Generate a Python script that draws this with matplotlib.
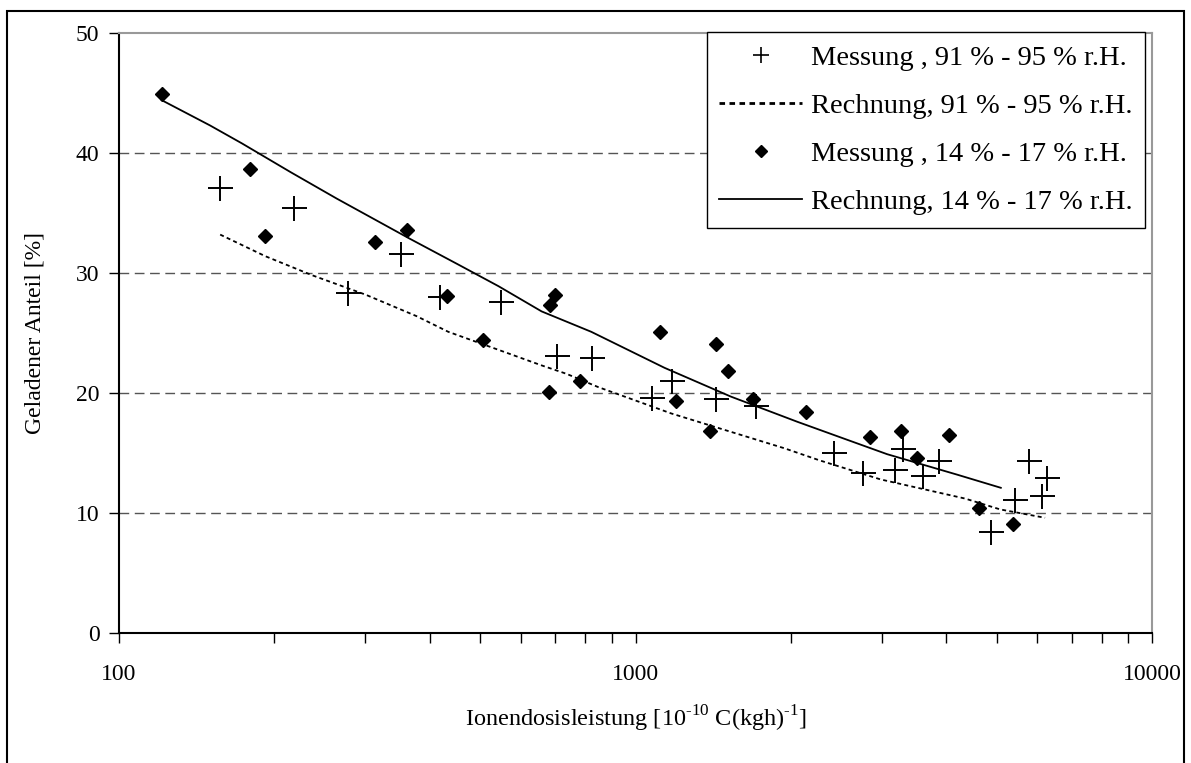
import matplotlib.pyplot as plt
from matplotlib.lines import Line2D
from matplotlib.patches import Rectangle

# Messung, 91 % - 95 % r.H.
mess_hoch_x = [157, 218, 277, 351, 419, 549, 704, 825, 1077, 1177, 1432, 1710,
               2424, 2760, 3187, 3297, 3598, 3874, 4884, 5433, 5781, 6135, 6275]
mess_hoch_y = [37.1, 35.4, 28.3, 31.6, 28.0, 27.6, 23.1, 22.9, 19.6, 21.0, 19.5, 18.9,
               15.0, 13.3, 13.6, 15.3, 13.1, 14.3, 8.4, 11.1, 14.3, 11.4, 12.9]

# Messung, 14 % - 17 % r.H.
mess_tief_x = [121, 179, 192, 313, 361, 431, 506, 680, 684, 698, 781, 1116,
               1198, 1394, 1432, 1508, 1685, 2136, 2839, 3269, 3510, 4051, 4628, 5377]
mess_tief_y = [44.9, 38.7, 33.1, 32.6, 33.6, 28.1, 24.4, 20.1, 27.3, 28.2, 21.0, 25.1,
               19.3, 16.8, 24.1, 21.8, 19.5, 18.4, 16.3, 16.8, 14.6, 16.5, 10.4, 9.1]

# Rechnung, 91 % - 95 % r.H.
rech_hoch_x = [157, 192, 237, 300, 377, 434, 559, 658, 735, 846, 1011, 1172,
               1443, 1940, 2267, 2981, 3865, 4349, 5081, 6208]
rech_hoch_y = [33.2, 31.4, 29.8, 28.2, 26.4, 25.1, 23.4, 22.3, 21.6, 20.5, 19.3, 18.3,
               17.1, 15.4, 14.4, 12.8, 11.7, 11.2, 10.3, 9.6]

# Rechnung, 14 % - 17 % r.H.
rech_tief_x = [121, 150, 173, 215, 264, 364, 454, 543, 658, 821, 1138, 1530,
               2058, 2570, 3071, 4192, 5097]
rech_tief_y = [44.4, 42.3, 40.8, 38.4, 36.2, 32.9, 30.7, 28.9, 26.8, 25.1, 22.1, 19.7,
               17.6, 16.1, 14.9, 13.2, 12.1]

labels = ["Messung , 91 % - 95 % r.H.", "Rechnung, 91 % - 95 % r.H.",
          "Messung , 14 % - 17 % r.H.", "Rechnung, 14 % - 17 % r.H."]

plt.rcParams["font.family"] = ["Liberation Serif", "DejaVu Serif"]
plt.rcParams["mathtext.fontset"] = "custom"
plt.rcParams["mathtext.rm"] = "Liberation Serif"

fig = plt.figure(figsize=(11.91, 7.63), dpi=100)
ax = fig.add_axes([119 / 1191, 1 - 633 / 763, 1033 / 1191, 600 / 763])

dotted = (0, (2.2, 1.8))
ax.plot(rech_hoch_x, rech_hoch_y, color="black", lw=1.3, linestyle=dotted, zorder=3)
ax.plot(rech_tief_x, rech_tief_y, color="black", lw=1.3, zorder=3)
ax.plot(mess_hoch_x, mess_hoch_y, linestyle="none", marker="+", color="black",
        markersize=18, markeredgewidth=1.4, zorder=4)
ax.plot(mess_tief_x, mess_tief_y, linestyle="none", marker="D", color="black",
        markersize=7.5, zorder=4)

ax.set_xscale("log")
ax.set_xlim(100, 10000)
ax.set_ylim(0, 50)
ax.set_yticks([0, 10, 20, 30, 40, 50])

for v in [10, 20, 30, 40]:
    ax.axhline(v, color="#555555", lw=1.0, linestyle=(0, (7, 4)), zorder=1)

ax.spines["top"].set_color("#999999")
ax.spines["right"].set_color("#999999")
for s in ["top", "right", "left", "bottom"]:
    ax.spines[s].set_linewidth(1.5)

ax.tick_params(axis="both", which="both", direction="out", length=7, width=1,
               labelsize=17)
ax.tick_params(axis="x", which="major", pad=15)
ax.tick_params(axis="y", pad=7)
ax.xaxis.set_minor_formatter(plt.NullFormatter())
ax.xaxis.set_major_formatter(plt.FuncFormatter(lambda v, p: f"{v:.0f}"))

ax.set_xlabel(r"Ionendosisleistung [10$^{\text{-10}}$ C(kgh)$^{\text{-1}}$]",
              fontsize=17.5, labelpad=14)
ax.set_ylabel("Geladener Anteil [%]", fontsize=17, labelpad=22)

handles = [
    Line2D([], [], linestyle="none", marker="+", color="black", markersize=11, markeredgewidth=1.2),
    Line2D([], [], color="black", lw=2, linestyle=(0, (2, 1.6))),
    Line2D([], [], linestyle="none", marker="D", color="black", markersize=6),
    Line2D([], [], color="black", lw=1.3),
]
leg = ax.legend(handles, labels, loc="upper right", bbox_to_anchor=(1145 / 1191, 1 - 32 / 763),
                bbox_transform=fig.transFigure, fontsize=20.5, frameon=True, fancybox=False,
                framealpha=1, edgecolor="black", handlelength=2.9, handletextpad=0.3,
                labelspacing=0.78, borderpad=0.45, borderaxespad=0)
leg.get_frame().set_linewidth(1.0)
leg.set_zorder(5)

# outer frame around the whole chart
fig.patches.append(Rectangle((7 / 1191, -0.01), 1177 / 1191, 1 - 11 / 763 + 0.01,
                             transform=fig.transFigure, fill=False,
                             edgecolor="black", lw=1.5))

fig.savefig("out.png", dpi=100)
